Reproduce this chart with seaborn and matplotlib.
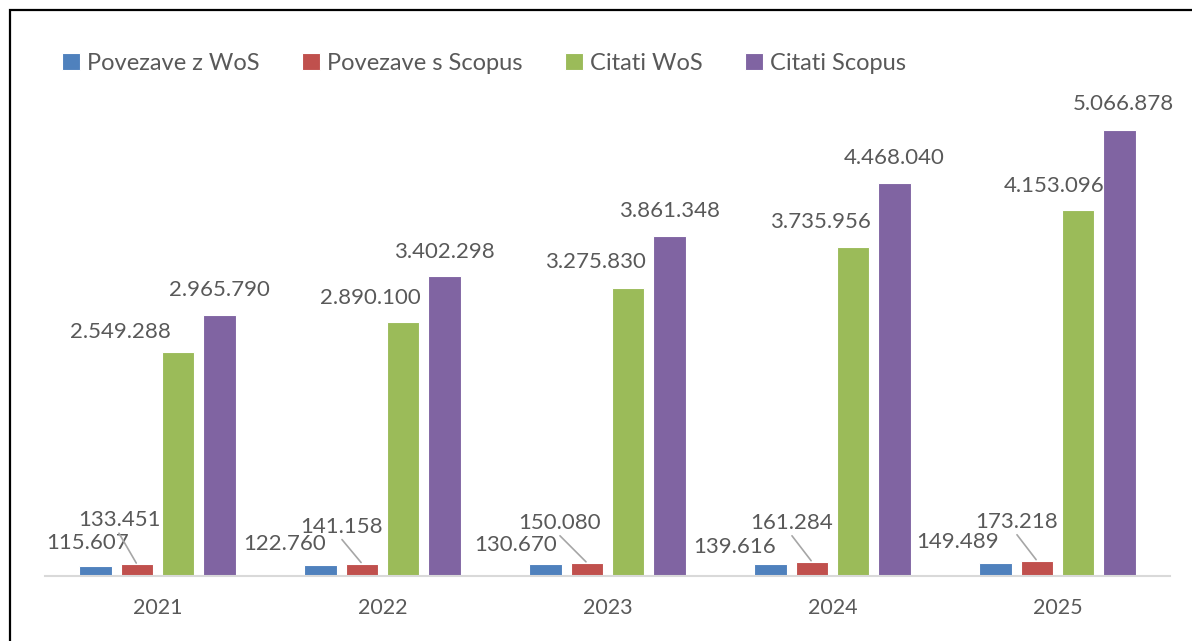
import matplotlib
matplotlib.use('Agg')
import matplotlib.pyplot as plt
import matplotlib.patches as patches
import seaborn as sns
import pandas as pd

years = ['2021', '2022', '2023', '2024', '2025']
series = ['Povezave z WoS', 'Povezave s Scopus', 'Citati WoS', 'Citati Scopus']
povezave_wos = [115607, 122760, 130670, 139616, 149489]
povezave_scopus = [133451, 141158, 150080, 161284, 173218]
citati_wos = [2549288, 2890100, 3275830, 3735956, 4153096]
citati_scopus = [2965790, 3402298, 3861348, 4468040, 5066878]

colors = ['#4F81BD', '#C0504D', '#9BBB59', '#8064A2']
text_gray = '#595959'

rows = []
for name, vals in zip(series, [povezave_wos, povezave_scopus, citati_wos, citati_scopus]):
    for y, v in zip(years, vals):
        rows.append({'year': y, 'series': name, 'value': v})
df = pd.DataFrame(rows)

sns.set_style('white')
plt.rcParams['font.family'] = ['Lato', 'DejaVu Sans']

fig = plt.figure(figsize=(11.92, 6.41), dpi=100)
ax = fig.add_axes([45 / 1192, 65 / 641, 1125 / 1192, 493 / 641])

sns.barplot(data=df, x='year', y='value', hue='series', palette=colors,
            saturation=1, width=0.73, gap=0.2, errorbar=None,
            edgecolor='white', linewidth=0.8, ax=ax)

ax.set_xlim(-0.5, 4.5)
ax.set_ylim(0, 5.6e6)
ax.set_xlabel('')
ax.set_ylabel('')
ax.set_yticks([])
for s in ['top', 'right', 'left']:
    ax.spines[s].set_visible(False)
ax.spines['bottom'].set_color('#D9D9D9')
ax.spines['bottom'].set_linewidth(1.5)
ax.tick_params(axis='x', length=0, labelsize=15.5, labelcolor=text_gray, pad=16)


def fmt(v):
    return f'{v:,}'.replace(',', '.')


# label offsets in pixels (dx, dy) per series, hand placed like the original
offsets = [
    [(-8, 23), (-36, 21), (-30, 19), (-36, 17), (-38, 21)],
    [(-18, 44), (-20, 37), (-27, 40), (-20, 39), (-20, 39)],
    [(-58, 20), (-33, 24), (-33, 26), (-33, 25), (-24, 24)],
    [(0, 25), (0, 24), (0, 25), (0, 25), (4, 26)],
]

for i, cont in enumerate(ax.containers):
    for j, bar in enumerate(cont):
        x = bar.get_x() + bar.get_width() / 2
        h = bar.get_height()
        dx, dy = offsets[i][j]
        ax.annotate(fmt(int(round(h))), (x, h), xytext=(dx, dy),
                    textcoords='offset pixels', ha='center', va='center',
                    fontsize=16, color=text_gray)
        if i == 1:
            ax.annotate('', (x, h), xytext=(dx, dy - 13),
                        textcoords='offset pixels',
                        arrowprops=dict(arrowstyle='-', color='#A6A6A6', lw=1.2,
                                        shrinkA=0, shrinkB=1))

ax.legend(loc='center', bbox_to_anchor=(484 / 1192, 1 - 63 / 641),
          bbox_transform=fig.transFigure, ncol=4, frameon=False,
          fontsize=17, labelcolor=text_gray, handlelength=0.75,
          handleheight=0.75, handletextpad=0.3, columnspacing=1.8)

fig.patches.append(patches.Rectangle((10 / 1192, -0.1), 1.2, 0.1 + 631 / 641,
                                     transform=fig.transFigure, fill=False,
                                     edgecolor='black', linewidth=1.6))

fig.savefig('out.png', dpi=100)
